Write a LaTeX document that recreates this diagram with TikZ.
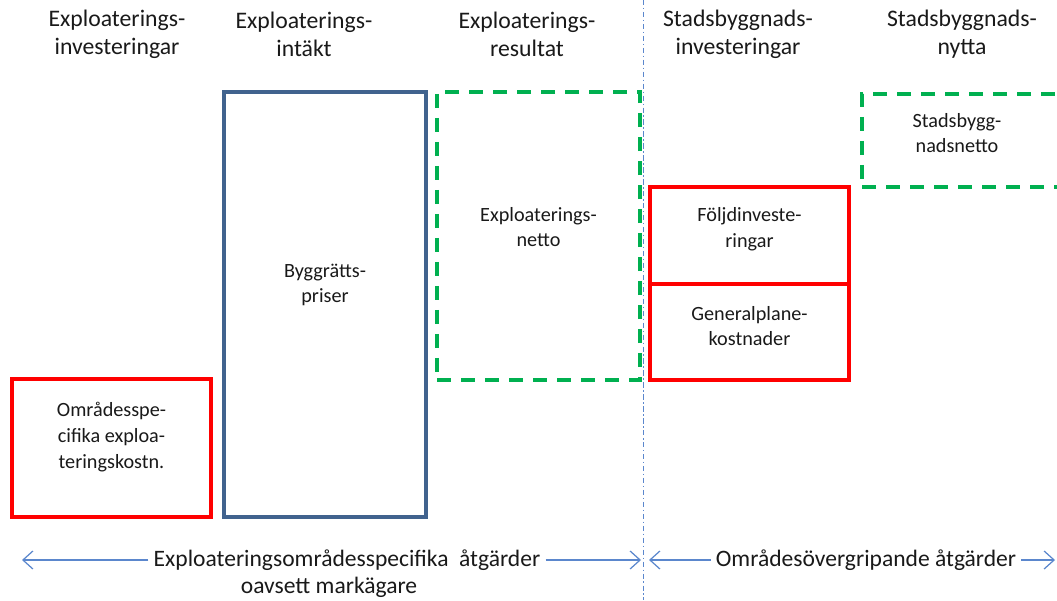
\documentclass[tikz,border=0pt]{standalone}
\usepackage{fontspec}
\setmainfont{Carlito}
\usepackage{tikz}
\usetikzlibrary{arrows.meta, positioning}
\definecolor{boxred}{RGB}{255,0,0}
\definecolor{boxblue}{RGB}{65,99,142}
\definecolor{netgreen}{RGB}{0,176,80}
\definecolor{lineblue}{RGB}{91,135,205}
\definecolor{textdark}{RGB}{25,25,25}

\begin{document}
\begin{tikzpicture}[
    header/.style={align=center, text=textdark, font=\fontsize{13.5}{15.8}\selectfont},
    boxtext/.style={align=center, text=textdark, font=\fontsize{11.5}{14.6}\selectfont},
    footer/.style={text=textdark, font=\fontsize{13.4}{15}\selectfont, inner sep=0.1cm},
    cost/.style={rectangle, draw=boxred, line width=2.3pt},
    income/.style={rectangle, draw=boxblue, line width=2.3pt},
    result/.style={rectangle, draw=netgreen, line width=2.3pt, dash pattern=on 0.28cm off 0.2cm},
    arrow/.style={-{Straight Barb[length=0.2cm, width=0.36cm]}, draw=lineblue, line width=0.7pt}
]
    \useasboundingbox (0,0) rectangle (21.14,12);
    \clip (0,0) rectangle (21.14,12);

    % Column headers
    \node[header] (hInv) at (2.34, 11.32) {Exploaterings-\\investeringar};
    \node[header] (hInt) at (6.08, 11.32) {Exploaterings-\\intäkt};
    \node[header] (hRes) at (10.54, 11.32) {Exploaterings-\\resultat};
    \node[header] (hSInv) at (14.76, 11.32) {Stadsbyggnads-\\investeringar};
    \node[header] (hNytta) at (19.24, 11.32) {Stadsbyggnads-\\nytta};

    % Boxes
    \node[cost, minimum width=3.98cm, minimum height=2.76cm] (omr) at (2.23, 3.04) {};
    \node[income, minimum width=4.04cm, minimum height=8.5cm] (bygg) at (6.5, 5.91) {};
    \node[result, minimum width=4.06cm, minimum height=5.76cm] (netto) at (10.77, 7.28) {};
    \node[cost, minimum width=3.98cm, minimum height=1.94cm] (folj) at (14.99, 7.29) {};
    \node[cost, minimum width=3.98cm, minimum height=1.92cm] (gen) at (14.99, 5.36) {};
    \node[result, minimum width=4.6cm, minimum height=1.86cm] (sbnetto) at (19.54, 9.19) {};

    % Box texts
    \node[boxtext] (tOmr) at (2.23, 3.26) {Områdesspe-\\cifika exploa-\\teringskostn.};
    \node[boxtext] (tBygg) at (6.5, 6.3) {Byggrätts-\\priser};
    \node[boxtext] (tNetto) at (10.77, 7.46) {Exploaterings-\\netto};
    \node[boxtext] (tFolj) at (14.99, 7.42) {Följdinveste-\\ringar};
    \node[boxtext] (tGen) at (14.99, 5.48) {Generalplane-\\kostnader};
    \node[boxtext] (tSb) at (19.14, 9.34) {Stadsbygg-\\nadsnetto};

    % Divider
    \coordinate (divTop) at (12.86, 12);
    \coordinate (divBot) at (12.86, 0);
    \draw[lineblue, line width=0.5pt, dash pattern=on 3pt off 1.5pt on 0.8pt off 1.5pt] (divTop) -- (divBot);

    % Bottom arrows
    \node[footer] (fSpec) at (6.94, 0.8) {Exploateringsområdesspecifika\ \ åtgärder};
    \node[footer] (fMark) at (6.58, 0.26) {oavsett markägare};
    \node[footer] (fOver) at (17.32, 0.8) {Områdesövergripande åtgärder};
    \coordinate (leftEnd) at (0.44, 0.8);
    \coordinate (midL) at (12.82, 0.8);
    \coordinate (midR) at (12.98, 0.8);
    \coordinate (rightEnd) at (21.1, 0.8);
    \draw[arrow] (fSpec.west) -- (leftEnd);
    \draw[arrow] (fSpec.east) -- (midL);
    \draw[arrow] (fOver.west) -- (midR);
    \draw[arrow] (fOver.east) -- (rightEnd);
\end{tikzpicture}
\end{document}
